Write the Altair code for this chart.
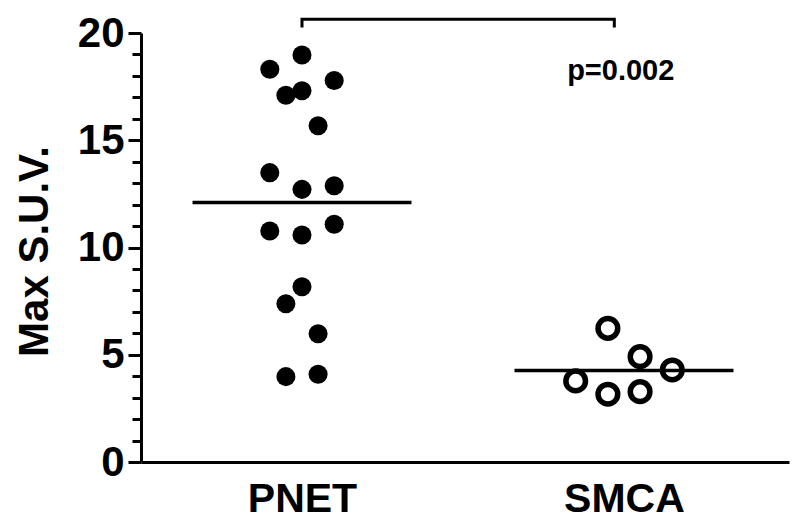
import altair as alt
import pandas as pd

# ---- data ----
categories = ["PNET", "SMCA"]
pnet_values = [18.97, 18.31, 17.79, 17.10, 17.31, 15.68, 13.49, 12.71, 12.88,
               10.77, 10.58, 11.08, 8.17, 7.38, 5.98, 3.98, 4.09]
pnet_slots = [0, -2, 2, -1, 0, 1, -2, 0, 2, -2, 0, 2, 0, -1, 1, -1, 1]
smca_values = [6.23, 4.91, 4.29, 3.78, 3.16, 3.28]
smca_slots = [-1, 1, 3, -3, -1, 1]
group_means = [12.1, 4.27]
bracket_x = [1.0, 1.0, 1.97, 1.97]
bracket_y = [20.33, 20.64, 20.64, 20.33]
p_label = "p=0.002"
p_pos = [1.99, 17.81]
y_title = "Max S.U.V."
y_tick_values = list(range(0, 21))

SLOT = 0.05
HALF = 0.34
FONT = "Liberation Sans"

pnet = pd.DataFrame({"x": [1 + s * SLOT for s in pnet_slots], "y": pnet_values})
smca = pd.DataFrame({"x": [2 + s * SLOT for s in smca_slots], "y": smca_values})
means = pd.DataFrame({"x": [1 - HALF, 2 - HALF], "x2": [1 + HALF, 2 + HALF], "y": group_means})
bracket = pd.DataFrame({"x": bracket_x, "y": bracket_y, "o": list(range(len(bracket_x)))})
ptext = pd.DataFrame({"x": [p_pos[0]], "y": [p_pos[1]], "t": [p_label]})

label_expr = " : ".join(
    [f"datum.value == {i + 1} ? '{c}'" for i, c in enumerate(categories)]) + " : ''"

xscale = alt.Scale(domain=[0.5, 2.5125], nice=False, zero=False)
yscale = alt.Scale(domain=[0, 20], nice=False, zero=True)

x_axis = alt.Axis(values=[1, 2], labelExpr=label_expr, ticks=False, grid=False,
                  domainColor="black", domainWidth=3, labelFont=FONT, labelFontSize=41,
                  labelFontWeight="bold", labelColor="black", labelPadding=17, title=None,
                  labelOverlap=False)
y_axis = alt.Axis(values=y_tick_values, labelOverlap=False,
                  tickSize={"condition": {"test": "datum.value % 5 === 0", "value": 13}, "value": 9},
                  labelExpr="datum.value % 5 === 0 ? datum.label : ''",
                  tickWidth=3, tickColor="black", domainColor="black", domainWidth=3,
                  grid=False, labelFont=FONT, labelFontSize=42, labelFontWeight="bold",
                  labelColor="black", labelPadding=4, title=y_title, titleFont=FONT,
                  titleFontSize=42, titleFontWeight="bold", titleColor="black",
                  titleAngle=-90, titleX=-94, titleY=218, titleAlign="center",
                  titleBaseline="alphabetic")

X = alt.X("x:Q", scale=xscale, axis=x_axis)
Y = alt.Y("y:Q", scale=yscale, axis=y_axis)

filled = alt.Chart(pnet).mark_point(filled=True, color="black", size=363, opacity=1,
                                    strokeWidth=0).encode(x=X, y=Y)
hollow = alt.Chart(smca).mark_point(filled=False, color="black", size=385, strokeWidth=5.5,
                                    opacity=1).encode(x=X, y=Y)
mean_rules = alt.Chart(means).mark_rule(color="black", strokeWidth=3.5).encode(
    x=X, x2="x2:Q", y=Y)
brk = alt.Chart(bracket).mark_line(color="black", strokeWidth=3, strokeCap="square").encode(
    x=X, y=Y, order="o:Q")
txt = alt.Chart(ptext).mark_text(font=FONT, fontSize=29, fontWeight="bold", color="black",
                                 align="center", baseline="alphabetic").encode(
    x=X, y=Y, text="t:N")

chart = alt.layer(mean_rules, filled, hollow, brk, txt).properties(
    width=648, height=429,
    autosize=alt.AutoSizeParams(type="none"),
    padding={"left": 133, "top": 25, "right": 3, "bottom": 60},
    background="white",
).configure_view(stroke=None)

chart.save("out.html", embed_options={"renderer": "svg", "actions": False})
